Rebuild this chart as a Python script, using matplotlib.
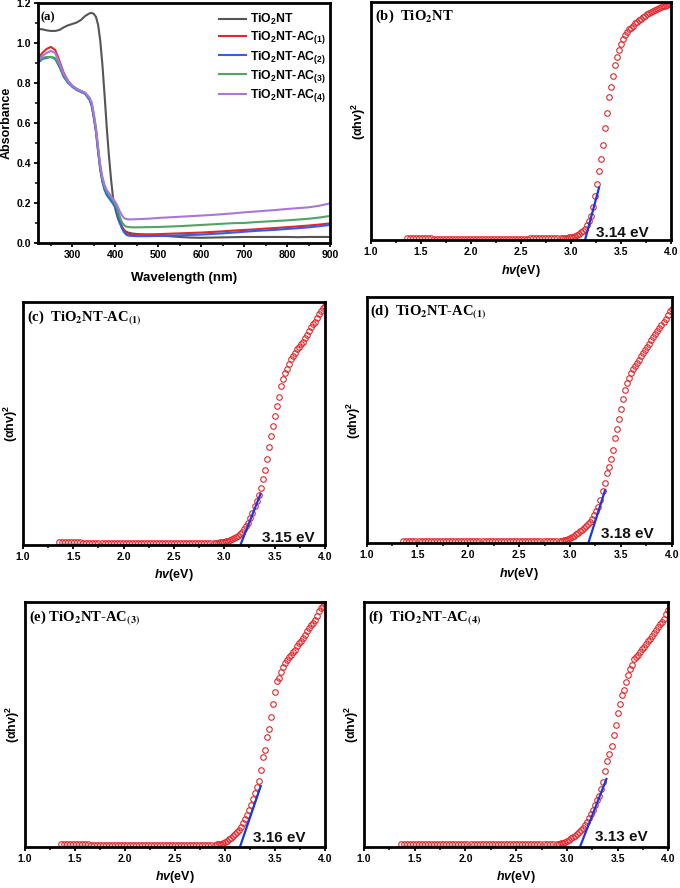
import matplotlib
matplotlib.use("Agg")
import matplotlib.pyplot as plt
from matplotlib.ticker import MultipleLocator, NullLocator

plt.rcParams['font.family'] = ['Liberation Sans', 'DejaVu Sans']
plt.rcParams['font.weight'] = 'bold'
plt.rcParams['mathtext.fontset'] = 'custom'
plt.rcParams['mathtext.rm'] = 'Liberation Sans:bold'
plt.rcParams['mathtext.bf'] = 'Liberation Sans:bold'
plt.rcParams['mathtext.it'] = 'Liberation Sans:italic:bold'

# ---- (a) absorbance spectra ----
wl = [220, 230, 240, 250, 260, 270, 280, 290, 300, 310, 320, 330, 340,
      345, 350, 355, 360, 365, 370, 375, 380, 385, 390, 395, 400, 405, 410, 415, 420, 425, 430,
      440, 450,
      475, 500, 525, 550, 575, 600, 625, 650, 675, 700, 725, 750, 775, 800, 825, 850, 875, 900]

abs_nt = [1.07, 1.068, 1.063, 1.06, 1.06, 1.065, 1.078, 1.088, 1.095, 1.102, 1.115, 1.135, 1.148,
          1.15, 1.145, 1.13, 1.09, 1.01, 0.89, 0.74, 0.58, 0.44, 0.32, 0.22, 0.17, 0.13, 0.1, 0.08, 0.065, 0.057, 0.052,
          0.047, 0.045,
          0.04, 0.037, 0.034, 0.03, 0.027, 0.026, 0.027, 0.028, 0.029, 0.03, 0.03, 0.03, 0.03, 0.03, 0.029, 0.03, 0.03, 0.03]
abs_ac1 = [0.92, 0.95, 0.97, 0.98, 0.965, 0.91, 0.85, 0.81, 0.785, 0.77, 0.76, 0.75, 0.72,
           0.69, 0.63, 0.56, 0.46, 0.37, 0.31, 0.27, 0.245, 0.23, 0.215, 0.2, 0.185, 0.16, 0.12, 0.085, 0.065, 0.052, 0.046,
           0.042, 0.042,
           0.043, 0.044, 0.046, 0.048, 0.05, 0.052, 0.055, 0.058, 0.062, 0.065, 0.068, 0.072, 0.075, 0.079, 0.083, 0.087, 0.092, 0.098]
abs_ac2 = [0.90, 0.92, 0.925, 0.93, 0.92, 0.88, 0.83, 0.80, 0.78, 0.765, 0.755, 0.745, 0.715,
           0.685, 0.625, 0.555, 0.455, 0.365, 0.305, 0.265, 0.24, 0.225, 0.21, 0.195, 0.18, 0.15, 0.11, 0.075, 0.055, 0.042, 0.037,
           0.035, 0.034,
           0.034, 0.035, 0.036, 0.038, 0.04, 0.042, 0.045, 0.048, 0.052, 0.056, 0.06, 0.063, 0.066, 0.07, 0.074, 0.078, 0.084, 0.09]
abs_ac3 = [0.91, 0.925, 0.93, 0.93, 0.925, 0.89, 0.84, 0.805, 0.785, 0.77, 0.76, 0.75, 0.725,
           0.70, 0.64, 0.57, 0.47, 0.38, 0.32, 0.28, 0.255, 0.24, 0.225, 0.21, 0.195, 0.17, 0.135, 0.105, 0.09, 0.082, 0.08,
           0.078, 0.078,
           0.079, 0.08, 0.082, 0.084, 0.087, 0.09, 0.093, 0.096, 0.099, 0.10, 0.104, 0.107, 0.11, 0.113, 0.117, 0.121, 0.127, 0.135]
abs_ac4 = [0.91, 0.935, 0.95, 0.96, 0.95, 0.90, 0.845, 0.81, 0.785, 0.77, 0.76, 0.75, 0.725,
           0.70, 0.645, 0.575, 0.48, 0.39, 0.33, 0.29, 0.265, 0.25, 0.235, 0.22, 0.205, 0.185, 0.16, 0.14, 0.125, 0.12, 0.118,
           0.118, 0.119,
           0.121, 0.125, 0.128, 0.131, 0.134, 0.137, 0.14, 0.144, 0.148, 0.153, 0.157, 0.161, 0.165, 0.17, 0.174, 0.178, 0.186, 0.198]

labels_a = [r'TiO$_\mathbf{2}$NT', r'TiO$_\mathbf{2}$NT-AC$_\mathbf{(1)}$', r'TiO$_\mathbf{2}$NT-AC$_\mathbf{(2)}$',
            r'TiO$_\mathbf{2}$NT-AC$_\mathbf{(3)}$', r'TiO$_\mathbf{2}$NT-AC$_\mathbf{(4)}$']
colors_a = ['#555555', '#e5262b', '#2b62e8', '#4fa563', '#a877dd']

# ---- Tauc plots, (alpha h nu)^2 normalised to the frame ----
# flat part: 3 rows of 17 points
hv_flat = [1.36, 1.39, 1.42, 1.45, 1.48, 1.51, 1.54, 1.57, 1.60, 1.63, 1.66, 1.69, 1.72, 1.75, 1.78, 1.81, 1.84,
           1.87, 1.90, 1.93, 1.96, 1.99, 2.02, 2.05, 2.08, 2.11, 2.14, 2.17, 2.20, 2.23, 2.26, 2.29, 2.32, 2.35,
           2.38, 2.41, 2.44, 2.47, 2.50, 2.53, 2.56, 2.59, 2.62, 2.65, 2.68, 2.71, 2.74, 2.77, 2.80, 2.83, 2.86]
# rising part: 6 + 5 rows of 10 points
hv_rise = [2.90, 2.92, 2.94, 2.96, 2.98, 3.00,
           3.02, 3.04, 3.06, 3.08, 3.10, 3.12, 3.14, 3.16, 3.18, 3.20,
           3.22, 3.24, 3.26, 3.28, 3.30, 3.32, 3.34, 3.36, 3.38, 3.40,
           3.42, 3.44, 3.46, 3.48, 3.50, 3.52, 3.54, 3.56, 3.58, 3.60,
           3.62, 3.64, 3.66, 3.68, 3.70, 3.72, 3.74, 3.76, 3.78, 3.80,
           3.82, 3.84, 3.86, 3.88, 3.90, 3.92, 3.94, 3.96, 3.98, 4.00]

tauc_b = [0.008, 0.008, 0.008, 0.007, 0.007, 0.007, 0.007, 0.007, 0.007, 0.006, 0.006, 0.006, 0.006, 0.006, 0.006, 0.006, 0.006,
          0.006, 0.006, 0.006, 0.006, 0.006, 0.006, 0.006, 0.006, 0.006, 0.006, 0.006, 0.006, 0.006, 0.006, 0.006, 0.006, 0.006,
          0.006, 0.006, 0.006, 0.006, 0.006, 0.006, 0.006, 0.007, 0.007, 0.007, 0.007, 0.007, 0.007, 0.007, 0.007, 0.007, 0.007,
          0.007, 0.008, 0.009, 0.010, 0.011, 0.012,
          0.014, 0.017, 0.021, 0.026, 0.032, 0.038, 0.048, 0.062, 0.08, 0.10,
          0.14, 0.185, 0.235, 0.29, 0.34, 0.40, 0.47, 0.535, 0.60, 0.645,
          0.69, 0.735, 0.77, 0.80, 0.825, 0.845, 0.86, 0.875, 0.885, 0.893,
          0.90, 0.91, 0.918, 0.925, 0.93, 0.937, 0.943, 0.948, 0.953, 0.958,
          0.963, 0.968, 0.972, 0.976, 0.979, 0.982, 0.985, 0.988, 0.991, 0.994]
tauc_c = [0.012, 0.012, 0.012, 0.011, 0.011, 0.011, 0.011, 0.011, 0.010, 0.010, 0.010, 0.010, 0.010, 0.010, 0.009, 0.008, 0.008,
          0.008, 0.008, 0.008, 0.008, 0.008, 0.008, 0.008, 0.008, 0.008, 0.008, 0.008, 0.008, 0.008, 0.008, 0.008, 0.008, 0.008,
          0.008, 0.008, 0.008, 0.008, 0.008, 0.009, 0.009, 0.009, 0.009, 0.009, 0.009, 0.009, 0.009, 0.009, 0.009, 0.009, 0.009,
          0.008, 0.009, 0.010, 0.011, 0.012, 0.013,
          0.015, 0.018, 0.021, 0.025, 0.029, 0.033, 0.038, 0.045, 0.054, 0.065,
          0.08, 0.092, 0.11, 0.13, 0.16, 0.18, 0.205, 0.235, 0.27, 0.31,
          0.355, 0.405, 0.45, 0.49, 0.53, 0.57, 0.61, 0.655, 0.685, 0.708,
          0.725, 0.745, 0.765, 0.777, 0.79, 0.805, 0.815, 0.828, 0.836, 0.85,
          0.865, 0.88, 0.898, 0.91, 0.919, 0.935, 0.95, 0.963, 0.975, 0.985]
tauc_d = [0.009, 0.009, 0.009, 0.009, 0.009, 0.009, 0.009, 0.009, 0.009, 0.009, 0.009, 0.009, 0.009, 0.009, 0.009, 0.009, 0.009,
          0.009, 0.009, 0.009, 0.009, 0.009, 0.009, 0.009, 0.009, 0.009, 0.009, 0.009, 0.009, 0.009, 0.009, 0.009, 0.009, 0.009,
          0.009, 0.009, 0.009, 0.009, 0.009, 0.009, 0.009, 0.009, 0.009, 0.009, 0.009, 0.009, 0.009, 0.009, 0.009, 0.009, 0.009,
          0.010, 0.011, 0.012, 0.014, 0.017, 0.02,
          0.025, 0.03, 0.036, 0.042, 0.048, 0.055, 0.063, 0.07, 0.078, 0.087,
          0.1, 0.115, 0.13, 0.149, 0.176, 0.21, 0.245, 0.286, 0.31, 0.34,
          0.38, 0.425, 0.465, 0.505, 0.543, 0.584, 0.62, 0.65, 0.672, 0.689,
          0.707, 0.72, 0.733, 0.745, 0.76, 0.772, 0.784, 0.797, 0.81, 0.824,
          0.835, 0.847, 0.86, 0.872, 0.885, 0.898, 0.91, 0.925, 0.94, 0.95]
tauc_e = [0.011, 0.011, 0.011, 0.010, 0.010, 0.011, 0.010, 0.010, 0.010, 0.010, 0.009, 0.009, 0.009, 0.009, 0.009, 0.009, 0.009,
          0.009, 0.009, 0.009, 0.008, 0.008, 0.008, 0.008, 0.008, 0.008, 0.008, 0.008, 0.008, 0.008, 0.008, 0.008, 0.008, 0.008,
          0.008, 0.008, 0.008, 0.008, 0.008, 0.008, 0.008, 0.008, 0.008, 0.008, 0.008, 0.008, 0.008, 0.008, 0.008, 0.008, 0.008,
          0.009, 0.01, 0.011, 0.013, 0.016, 0.02,
          0.024, 0.03, 0.036, 0.042, 0.05, 0.06, 0.07, 0.082, 0.095, 0.112,
          0.13, 0.15, 0.172, 0.196, 0.218, 0.245, 0.27, 0.315, 0.365, 0.395,
          0.449, 0.48, 0.53, 0.585, 0.633, 0.677, 0.691, 0.715, 0.735, 0.751,
          0.763, 0.774, 0.785, 0.796, 0.805, 0.82, 0.833, 0.84, 0.853, 0.867,
          0.88, 0.893, 0.905, 0.915, 0.928, 0.945, 0.962, 0.975, 0.985, 0.995]
tauc_f = [0.011, 0.011, 0.011, 0.011, 0.011, 0.011, 0.011, 0.010, 0.010, 0.010, 0.010, 0.010, 0.010, 0.010, 0.010, 0.010, 0.010,
          0.010, 0.010, 0.010, 0.010, 0.010, 0.010, 0.010, 0.010, 0.010, 0.010, 0.010, 0.010, 0.010, 0.010, 0.010, 0.010, 0.010,
          0.011, 0.011, 0.011, 0.011, 0.011, 0.011, 0.011, 0.011, 0.011, 0.011, 0.011, 0.011, 0.011, 0.011, 0.011, 0.011, 0.011,
          0.012, 0.013, 0.015, 0.017, 0.02, 0.024,
          0.029, 0.034, 0.04, 0.045, 0.052, 0.06, 0.068, 0.078, 0.09, 0.102,
          0.116, 0.132, 0.15, 0.17, 0.19, 0.208, 0.235, 0.265, 0.31, 0.352,
          0.38, 0.413, 0.455, 0.497, 0.545, 0.585, 0.62, 0.641, 0.675, 0.70,
          0.725, 0.742, 0.766, 0.776, 0.784, 0.796, 0.807, 0.817, 0.828, 0.839,
          0.85, 0.863, 0.875, 0.887, 0.898, 0.91, 0.92, 0.932, 0.952, 0.966]

# linear fits (x ends, y ends) and band gap labels
fit_b = ([3.14, 3.28], [0.0, 0.22])
fit_c = ([3.16, 3.36], [0.0, 0.21])
fit_d = ([3.18, 3.345], [0.0, 0.215])
fit_e = ([3.15, 3.357], [0.0, 0.248])
fit_f = ([3.13, 3.39], [0.0, 0.277])
gap_b, gap_c, gap_d, gap_e, gap_f = '3.14 eV', '3.15 eV', '3.18 eV', '3.16 eV', '3.13 eV'

tag_b = r'(b)  TiO$_\mathbf{2}$NT'
tag_c = r'(c)  TiO$_\mathbf{2}$NT-AC$_\mathbf{(1)}$'
tag_d = r'(d)  TiO$_\mathbf{2}$NT-AC$_\mathbf{(1)}$'
tag_e = r'(e) TiO$_\mathbf{2}$NT-AC$_\mathbf{(3)}$'
tag_f = r'(f)  TiO$_\mathbf{2}$NT-AC$_\mathbf{(4)}$'


def style_axes(ax):
    for s in ax.spines.values():
        s.set_linewidth(2.0)
    ax.tick_params(which='major', direction='out', length=3, width=1.3, labelsize=7.5, pad=2)
    ax.tick_params(which='minor', direction='out', length=2, width=1.1)
    for lab in ax.get_xticklabels() + ax.get_yticklabels():
        lab.set_fontweight('bold')


fig = plt.figure(figsize=(6.8, 8.88), dpi=100)

# (a)
ax = fig.add_axes([0.0559, 0.7264, 0.4294, 0.2703])
for y, c, lab in zip([abs_nt, abs_ac1, abs_ac2, abs_ac3, abs_ac4], colors_a, labels_a):
    ax.plot(wl, y, color=c, lw=1.5, label=lab)
ax.set_xlim(220, 900)
ax.set_ylim(0, 1.2)
ax.xaxis.set_major_locator(MultipleLocator(100))
ax.xaxis.set_minor_locator(MultipleLocator(50))
ax.yaxis.set_major_locator(MultipleLocator(0.2))
ax.yaxis.set_minor_locator(MultipleLocator(0.1))
ax.set_xticks([300, 400, 500, 600, 700, 800, 900])
ax.set_xlabel('Wavelength (nm)', fontsize=9.5, fontweight='bold', labelpad=9)
ax.set_ylabel('Absorbance', fontsize=9, fontweight='bold', labelpad=3)
style_axes(ax)
ax.legend(loc='upper right', bbox_to_anchor=(1.0, 0.98), frameon=False, fontsize=8.8, handlelength=2.2,
          handletextpad=0.3, labelspacing=0.18, borderaxespad=0.15, borderpad=0.2)
ax.text(0.01, 0.965, '(a)', transform=ax.transAxes, va='top', ha='left', fontsize=9,
        fontweight='bold', family='Liberation Serif')

# (b)-(f)
tauc_panels = [
    ([0.5456, 0.7297, 0.4412, 0.268], tauc_b, fit_b, gap_b, 0.011, tag_b),
    ([0.0338, 0.3863, 0.4441, 0.2736], tauc_c, fit_c, gap_c, 0.014, tag_c),
    ([0.5392, 0.3882, 0.4485, 0.2777], tauc_d, fit_d, gap_d, 0.02, tag_d),
    ([0.0368, 0.0465, 0.4412, 0.2755], tauc_e, fit_e, gap_e, 0.02, tag_e),
    ([0.5353, 0.0465, 0.4475, 0.2755], tauc_f, fit_f, gap_f, 0.022, tag_f),
]
gap_x = {gap_b: 3.245, gap_c: 3.37, gap_d: 3.31, gap_e: 3.28, gap_f: 3.28}
hv = hv_flat + hv_rise

for rect, yv, fit, gap, gy, tag in tauc_panels:
    ax = fig.add_axes(rect)
    n = min(len(hv), len(yv))
    ax.plot(hv[-n:], yv[-n:], ls='none', marker='o', ms=4, mfc='none', mec='#e3262b', mew=0.8)
    ax.plot(fit[0], fit[1], color='#1538e6', lw=1.6)
    ax.set_xlim(1.0, 4.0)
    ax.set_ylim(0, 1.0)
    ax.xaxis.set_major_locator(MultipleLocator(0.5))
    ax.xaxis.set_minor_locator(MultipleLocator(0.25))
    ax.yaxis.set_major_locator(NullLocator())
    ax.set_xlabel(r'$\mathit{hv}$(eV)', fontsize=9, fontweight='bold', labelpad=4)
    ax.set_ylabel('(αhv)$^\\mathbf{2}$', fontsize=9, fontweight='bold', labelpad=2.5)
    style_axes(ax)
    ax.text(gap_x[gap], gy, gap, fontsize=11, fontweight='bold', va='baseline', ha='left', color='#111111')
    ax.text(0.012, 0.975, tag, transform=ax.transAxes, va='top', ha='left', fontsize=10.5,
            fontweight='bold', family='Liberation Serif', math_fontfamily='stix')

fig.savefig('out.png', dpi=100)
